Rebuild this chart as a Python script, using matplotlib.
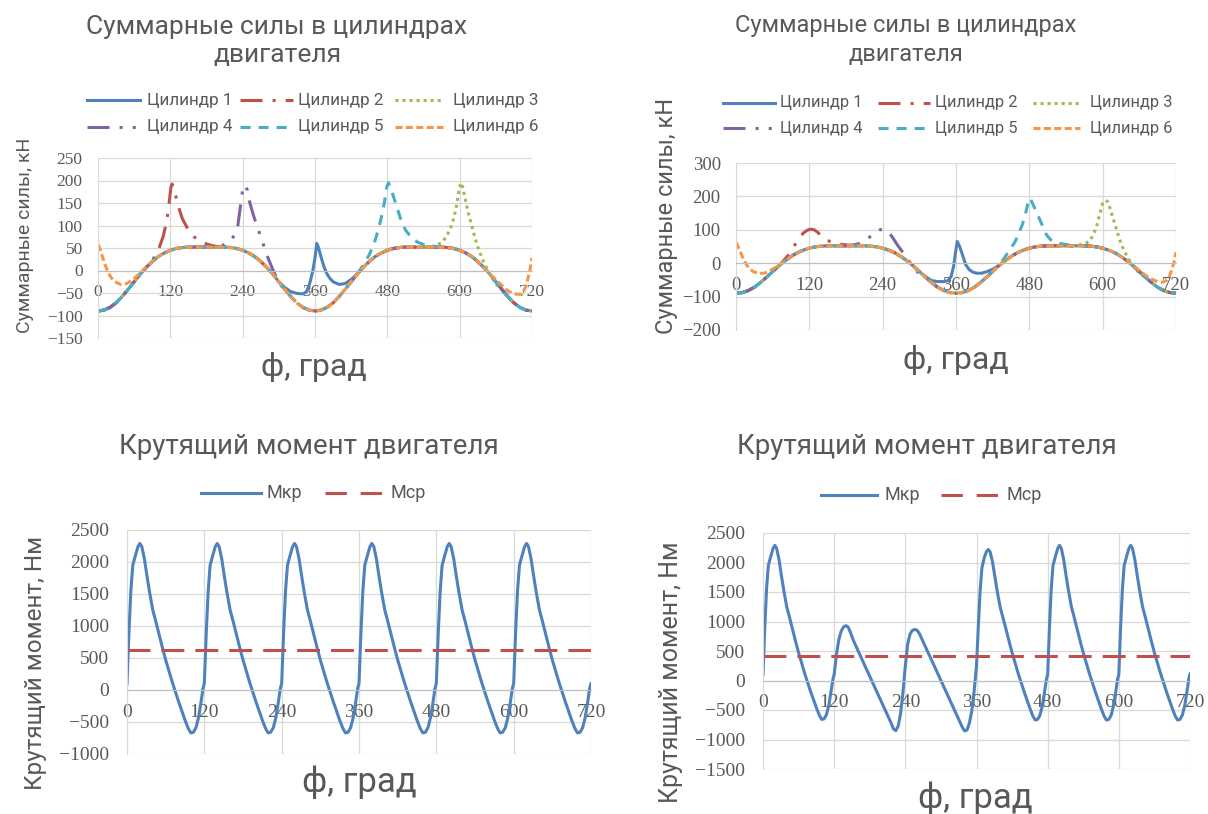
import matplotlib
matplotlib.use('Agg')
import matplotlib.pyplot as plt
from matplotlib.lines import Line2D

plt.rcParams['font.family'] = ['Roboto', 'DejaVu Sans']

W, H = 1208, 814
GRAY = '#595959'
GRID = '#D9D9D9'
TICKFONT = 'Liberation Serif'

# ---- data: forces (kN) ----
phi_ticks = [0, 120, 240, 360, 480, 600, 720]
base_phi = list(range(0, 721, 10))
base_force = [-90, -88, -82, -72, -58, -42, -25, -8, 7, 20, 31, 39, 45, 49, 51, 52, 52, 52,
              52, 52, 52, 52, 51, 49, 45, 39, 31, 20, 7, -8, -25, -42, -58, -72, -82, -88,
              -90, -88, -82, -72, -58, -42, -25, -8, 7, 20, 31, 39, 45, 49, 51, 52, 52, 52,
              52, 52, 52, 52, 51, 49, 45, 39, 31, 20, 7, -8, -25, -42, -58, -72, -82, -88, -90]

# left chart, parts where each cylinder leaves the common curve
c1_x = [300, 310, 320, 330, 340, 346, 351, 356, 360, 363, 366, 370, 375, 380, 385, 390, 400, 410, 420, 430, 440]
c1_y = [-25, -38, -47, -51, -52, -47, -30, -3, 28, 60, 50, 30, 8, -8, -18, -25, -31, -29, -20, -8, 7]
c2_x = [80, 90, 100, 108, 114, 118, 121, 123, 126, 130, 135, 140, 150, 160, 170, 180, 190, 200, 210]
c2_y = [7, 22, 45, 75, 110, 150, 185, 192, 182, 160, 135, 115, 90, 74, 65, 59, 55, 53, 52]
c3_x = [550, 560, 570, 578, 585, 590, 595, 599, 602, 605, 609, 614, 620, 626, 632, 640, 650, 660, 670]
c3_y = [52, 55, 62, 75, 95, 115, 145, 180, 195, 185, 160, 130, 100, 70, 45, 18, -8, -30, -42]
c4_x = [200, 210, 220, 226, 232, 236, 240, 244, 248, 252, 258, 264, 270, 280, 290, 300, 310]
c4_y = [52, 58, 66, 78, 100, 140, 180, 190, 178, 150, 122, 98, 75, 35, 2, -28, -42]
c5_x = [430, 440, 450, 458, 465, 470, 475, 479, 482, 486, 490, 496, 502, 510, 520, 530, 540, 550, 560, 570]
c5_y = [-8, 12, 35, 60, 90, 118, 150, 185, 195, 182, 165, 140, 115, 90, 73, 63, 58, 55, 53, 52]
c6a_x = [0, 4, 8, 12, 17, 22, 28, 38, 48, 58, 68, 78]
c6a_y = [58, 45, 28, 12, -5, -16, -25, -31, -29, -20, -8, 5]
c6b_x = [650, 660, 670, 680, 690, 700, 706, 711, 716, 720]
c6b_y = [-8, -20, -33, -45, -52, -53, -47, -30, -3, 28]

# right chart
r1_x = [300, 310, 320, 330, 340, 347, 352, 356, 359, 362, 366, 370, 376, 382, 388, 394, 402, 411, 420, 430, 440]
r1_y = [-25, -40, -52, -55, -55, -52, -40, -10, 30, 65, 50, 28, -5, -20, -27, -30, -30, -25, -18, -7, 7]
r2_x = [70, 78, 86, 94, 102, 110, 116, 122, 128, 134, 140, 148, 156, 165, 175, 185, 195, 210]
r2_y = [-8, 8, 25, 48, 72, 90, 98, 102, 100, 92, 80, 70, 63, 59, 56, 54, 53, 52]
r3_x = [550, 560, 570, 578, 584, 590, 595, 600, 604, 608, 612, 617, 622, 627, 632, 640, 650, 660, 670]
r3_y = [52, 54, 58, 65, 82, 110, 145, 180, 188, 185, 165, 135, 105, 75, 50, 20, -10, -30, -42]
r4_x = [180, 190, 200, 210, 220, 228, 234, 240, 246, 252, 258, 264, 270, 280, 290, 300, 310]
r4_y = [52, 54, 58, 66, 80, 92, 99, 102, 98, 88, 72, 55, 40, 15, -12, -32, -42]
r5_x = [430, 440, 448, 456, 463, 469, 474, 478, 481, 485, 490, 496, 502, 508, 515, 522, 530, 540, 550, 560, 570]
r5_y = [-8, 18, 40, 62, 90, 118, 150, 182, 195, 180, 160, 135, 110, 85, 70, 63, 59, 56, 54, 53, 52]
r6a_x = [0, 4, 8, 12, 17, 22, 28, 38, 48, 58, 68, 78]
r6a_y = [62, 48, 30, 13, -4, -16, -25, -31, -29, -20, -8, 4]
r6b_x = [650, 660, 670, 680, 690, 698, 704, 709, 713, 717, 720]
r6b_y = [-8, -22, -36, -48, -55, -57, -52, -40, -20, 5, 33]

# ---- data: torque (N*m) ----
mkr_left_x = [0, 3, 6, 9, 13, 17, 20, 23, 27, 31, 35, 40, 45, 50, 55, 60, 70, 80, 90, 95, 99, 103, 107, 111, 115, 118,
              120, 123, 126, 129, 133, 137, 140, 143, 147, 151, 155, 160, 165, 170, 175, 180, 190, 200, 210, 215, 219, 223, 227, 231, 235, 238,
              240, 243, 246, 249, 253, 257, 260, 263, 267, 271, 275, 280, 285, 290, 295, 300, 310, 320, 330, 335, 339, 343, 347, 351, 355, 358,
              360, 363, 366, 369, 373, 377, 380, 383, 387, 391, 395, 400, 405, 410, 415, 420, 430, 440, 450, 455, 459, 463, 467, 471, 475, 478,
              480, 483, 486, 489, 493, 497, 500, 503, 507, 511, 515, 520, 525, 530, 535, 540, 550, 560, 570, 575, 579, 583, 587, 591, 595, 598,
              600, 603, 606, 609, 613, 617, 620, 623, 627, 631, 635, 640, 645, 650, 655, 660, 670, 680, 690, 695, 699, 703, 707, 711, 715, 718,
              720]
mkr_left_y = [100, 900, 1550, 1950, 2100, 2240, 2290, 2240, 2050, 1780, 1530, 1250, 1060, 860, 660, 470, 130, -180, -470, -600, -670, -660, -590, -430, -180, 30,
              100, 900, 1550, 1950, 2100, 2240, 2290, 2240, 2050, 1780, 1530, 1250, 1060, 860, 660, 470, 130, -180, -470, -600, -670, -660, -590, -430, -180, 30,
              100, 900, 1550, 1950, 2100, 2240, 2290, 2240, 2050, 1780, 1530, 1250, 1060, 860, 660, 470, 130, -180, -470, -600, -670, -660, -590, -430, -180, 30,
              100, 900, 1550, 1950, 2100, 2240, 2290, 2240, 2050, 1780, 1530, 1250, 1060, 860, 660, 470, 130, -180, -470, -600, -670, -660, -590, -430, -180, 30,
              100, 900, 1550, 1950, 2100, 2240, 2290, 2240, 2050, 1780, 1530, 1250, 1060, 860, 660, 470, 130, -180, -470, -600, -670, -660, -590, -430, -180, 30,
              100, 900, 1550, 1950, 2100, 2240, 2290, 2240, 2050, 1780, 1530, 1250, 1060, 860, 660, 470, 130, -180, -470, -600, -670, -660, -590, -430, -180, 30,
              100]
mcp_left = 620

mkr_right_x = [0, 3, 6, 9, 13, 17, 20, 23, 27, 31, 35, 40, 45, 50, 55, 60, 70, 80, 90, 95, 99, 103, 107, 111, 115, 118,
               120, 124, 128, 132, 136, 140, 144, 148, 152, 160, 170, 180, 190, 200, 210, 216, 220, 224, 228, 232, 236,
               240, 244, 248, 252, 256, 260, 264, 268, 280, 290, 300, 310, 320, 330, 336, 340, 344, 348, 352, 356,
               360, 363, 366, 369, 373, 377, 380, 383, 387, 391, 395, 400, 405, 410, 415, 420, 430, 440, 450, 455, 459, 463, 467, 471, 475, 478,
               480, 483, 486, 489, 493, 497, 500, 503, 507, 511, 515, 520, 525, 530, 535, 540, 550, 560, 570, 575, 579, 583, 587, 591, 595, 598,
               600, 603, 606, 609, 613, 617, 620, 623, 627, 631, 635, 640, 645, 650, 655, 660, 670, 680, 690, 695, 699, 703, 707, 711, 715, 718,
               720]
mkr_right_y = [100, 900, 1550, 1950, 2100, 2240, 2290, 2240, 2050, 1780, 1530, 1250, 1060, 860, 660, 470, 130, -180, -460, -590, -660, -650, -580, -420, -170, 30,
               100, 450, 700, 840, 910, 930, 900, 800, 690, 510, 290, 70, -150, -370, -590, -720, -820, -850, -770, -560, -200,
               250, 620, 790, 850, 865, 850, 790, 700, 440, 220, 0, -220, -440, -660, -790, -855, -840, -720, -520, -180,
               250, 900, 1500, 1900, 2080, 2190, 2220, 2180, 2010, 1760, 1510, 1240, 1050, 860, 660, 470, 130, -180, -470, -600, -670, -660, -590, -430, -180, 30,
               100, 900, 1550, 1950, 2100, 2240, 2290, 2240, 2050, 1780, 1530, 1250, 1060, 860, 660, 470, 130, -180, -470, -600, -670, -660, -590, -430, -180, 30,
               100, 900, 1550, 1950, 2100, 2240, 2290, 2240, 2050, 1780, 1530, 1250, 1060, 860, 660, 470, 130, -180, -470, -600, -670, -660, -590, -430, -180, 30,
               110]
mcp_right = 420

cyl_names = ['Цилиндр 1', 'Цилиндр 2', 'Цилиндр 3', 'Цилиндр 4', 'Цилиндр 5', 'Цилиндр 6']
cyl_colors = ['#4F81BD', '#C0504D', '#9BBB59', '#8064A2', '#4BACC6', '#F79646']
cyl_styles = ['-', (0, (7.2, 3.3, 1, 3.3)), (0, (1, 1.3)), (0, (7.2, 3.3, 1, 3.3, 1, 3.3)),
              (0, (3.3, 2.6)), (0, (2.3, 1.1))]
MCP_STYLE = (0, (7.5, 3.6))
LW = 2.2


def splice(bx, by, segments):
    # replace the common curve with a cylinder's own points where it differs
    pts = list(zip(bx, by))
    for sx, sy in segments:
        pts = [p for p in pts if p[0] < sx[0] or p[0] > sx[-1]] + list(zip(sx, sy))
        pts.sort()
    return [p[0] for p in pts], [p[1] for p in pts]


def fx(x):
    return x / W


def fy(y):
    return 1 - y / H


def make_axes(fig, x0, x1, y0, y1, ylim, yticks, tick_size, ypad):
    ax = fig.add_axes([fx(x0), fy(y1), (x1 - x0) / W, (y1 - y0) / H])
    ax.set_xlim(0, 720)
    ax.set_ylim(*ylim)
    ax.set_xticks(phi_ticks)
    ax.set_yticks(yticks)
    ax.grid(True, color=GRID, lw=0.9)
    ax.set_axisbelow(True)
    for s in ['top', 'right']:
        ax.spines[s].set_visible(False)
    ax.spines['left'].set_color(GRID)
    ax.spines['bottom'].set_position(('data', 0))
    ax.spines['bottom'].set_color('#BFBFBF')
    ax.tick_params(length=0, labelsize=tick_size, labelcolor=GRAY, labelfontfamily=TICKFONT)
    ax.tick_params(axis='x', pad=10)
    ax.tick_params(axis='y', pad=ypad)
    ax.patch.set_alpha(0)
    return ax


def legend_item(fig, x0, x1, y, color, ls, label, tx, size):
    fig.add_artist(Line2D([fx(x0), fx(x1)], [fy(y), fy(y)], transform=fig.transFigure,
                          color=color, lw=LW, linestyle=ls))
    fig.text(fx(tx), fy(y), label, ha='left', va='center', fontsize=size, color=GRAY)


fig = plt.figure(figsize=(W / 100, H / 100), dpi=100)
fig.patch.set_facecolor('white')

# ---- top left: forces ----
ax = make_axes(fig, 98, 532, 158, 338, (-150, 250), range(-150, 251, 50), 12.5, 11)
left_segs = [[(c1_x, c1_y)], [(c2_x, c2_y)], [(c3_x, c3_y)], [(c4_x, c4_y)], [(c5_x, c5_y)],
             [(c6a_x, c6a_y), (c6b_x, c6b_y)]]
for i, segs in enumerate(left_segs):
    x, y = splice(base_phi, base_force, segs)
    ax.plot(x, y, color=cyl_colors[i], lw=LW, linestyle=cyl_styles[i])

fig.text(fx(277), fy(41), 'Суммарные силы в цилиндрах\nдвигателя', ha='center', va='center',
         fontsize=19, color=GRAY, linespacing=1.2)
cols = [(87, 140, 147), (240, 293, 298), (395, 443, 453)]
for i in range(6):
    l0, l1, t = cols[i % 3]
    legend_item(fig, l0, l1, [100, 127][i // 3], cyl_colors[i], cyl_styles[i], cyl_names[i], t, 12.3)
fig.text(fx(25), fy(235), 'Суммарные силы, кН', rotation=90, ha='center', va='center',
         fontsize=14, color=GRAY)
fig.text(fx(314), fy(367), 'ф, град', ha='center', va='center', fontsize=23, color=GRAY)

# ---- top right: forces ----
ax = make_axes(fig, 736, 1176, 163, 330, (-200, 300), range(-200, 301, 100), 13.5, 11)
right_segs = [[(r1_x, r1_y)], [(r2_x, r2_y)], [(r3_x, r3_y)], [(r4_x, r4_y)], [(r5_x, r5_y)],
              [(r6a_x, r6a_y), (r6b_x, r6b_y)]]
for i, segs in enumerate(right_segs):
    x, y = splice(base_phi, base_force, segs)
    ax.plot(x, y, color=cyl_colors[i], lw=LW, linestyle=cyl_styles[i])

fig.text(fx(906), fy(40), 'Суммарные силы в цилиндрах\nдвигателя', ha='center', va='center',
         fontsize=17, color=GRAY, linespacing=1.3)
cols = [(723, 775, 780), (878, 930, 935), (1033, 1080, 1090)]
for i in range(6):
    l0, l1, t = cols[i % 3]
    legend_item(fig, l0, l1, [103, 128][i // 3], cyl_colors[i], cyl_styles[i], cyl_names[i], t, 11.8)
fig.text(fx(667), fy(216), 'Суммарные силы, кН', rotation=90, ha='center', va='center',
         fontsize=17, color=GRAY)
fig.text(fx(956), fy(360), 'ф, град', ha='center', va='center', fontsize=23, color=GRAY)

# ---- bottom left: torque ----
ax = make_axes(fig, 127, 591, 530, 754, (-1000, 2500), range(-1000, 2501, 500), 14, 13)
ax.plot(mkr_left_x, mkr_left_y, color=cyl_colors[0], lw=LW)
ax.plot([0, 720], [mcp_left, mcp_left], color=cyl_colors[1], lw=LW, linestyle=MCP_STYLE)
fig.text(fx(309), fy(447), 'Крутящий момент двигателя', ha='center', va='center', fontsize=20, color=GRAY)
legend_item(fig, 201, 261, 493, cyl_colors[0], '-', 'Мкр', 267, 13)
legend_item(fig, 325, 384, 493, cyl_colors[1], (0, (7, 4.5)), 'Мср', 391, 13)
fig.text(fx(36), fy(663), 'Крутящий момент, Нм', rotation=90, ha='center', va='center',
         fontsize=17.5, color=GRAY)
fig.text(fx(359), fy(782), 'ф, град', ha='center', va='center', fontsize=25, color=GRAY)

# ---- bottom right: torque ----
ax = make_axes(fig, 763, 1190, 533, 769, (-1500, 2500), range(-1500, 2501, 500), 14, 13)
ax.plot(mkr_right_x, mkr_right_y, color=cyl_colors[0], lw=LW)
ax.plot([0, 720], [mcp_right, mcp_right], color=cyl_colors[1], lw=LW, linestyle=MCP_STYLE)
fig.text(fx(927), fy(447), 'Крутящий момент двигателя', ha='center', va='center', fontsize=20, color=GRAY)
legend_item(fig, 821, 877, 495, cyl_colors[0], '-', 'Мкр', 884, 13)
legend_item(fig, 941, 1000, 495, cyl_colors[1], (0, (7, 4.5)), 'Мср', 1007, 13)
fig.text(fx(671), fy(672), 'Крутящий момент, Нм', rotation=90, ha='center', va='center',
         fontsize=18, color=GRAY)
fig.text(fx(975), fy(798), 'ф, град', ha='center', va='center', fontsize=25, color=GRAY)

fig.savefig('out.png', dpi=100)
